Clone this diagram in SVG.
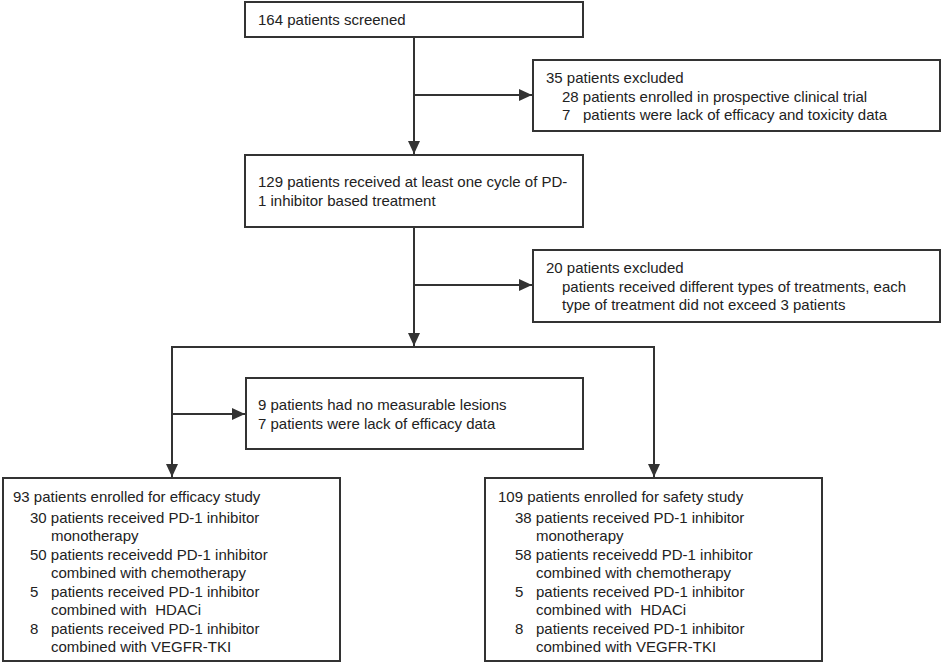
<svg xmlns="http://www.w3.org/2000/svg" width="942" height="664" viewBox="0 0 942 664">
<defs>
<marker id="ah" viewBox="0 0 13 12" refX="13" refY="6" markerWidth="13" markerHeight="12" markerUnits="userSpaceOnUse" orient="auto">
<path d="M0,0 L13,6 L0,12 z" fill="#333"/>
</marker>
<style>
.box{fill:#fff;stroke:#333;stroke-width:2}
.ln{fill:none;stroke:#333;stroke-width:2}
.t{font-family:"Liberation Sans",Arial,sans-serif;font-size:15px;fill:#222;white-space:pre}
</style>
</defs>
<rect width="942" height="664" fill="#fff"/>
<g id="connectors">
<line class="ln" x1="414" y1="37" x2="414" y2="154" marker-end="url(#ah)"/>
<line class="ln" x1="414" y1="95" x2="532" y2="95" marker-end="url(#ah)"/>
<line class="ln" x1="414" y1="227" x2="414" y2="346" marker-end="url(#ah)"/>
<line class="ln" x1="414" y1="285" x2="532" y2="285" marker-end="url(#ah)"/>
<line class="ln" x1="171" y1="347" x2="655" y2="347"/>
<line class="ln" x1="172" y1="347" x2="172" y2="477" marker-end="url(#ah)"/>
<line class="ln" x1="654" y1="347" x2="654" y2="477" marker-end="url(#ah)"/>
<line class="ln" x1="172" y1="414" x2="245" y2="414" marker-end="url(#ah)"/>
</g>
<g id="screened">
<rect class="box" x="245" y="2" width="338" height="35"/>
<text class="t" x="258" y="25">164 patients screened</text>
</g>
<g id="excluded1">
<rect class="box" x="533" y="60" width="407" height="71"/>
<text class="t" x="546" y="83">35 patients excluded</text>
<text class="t" x="562" y="102">28 patients enrolled in prospective clinical trial</text>
<text class="t" x="562" y="120">7</text>
<text class="t" x="583" y="120">patients were lack of efficacy and toxicity data</text>
</g>
<g id="received">
<rect class="box" x="245" y="155" width="338" height="72"/>
<text class="t" x="258" y="187">129 patients received at least one cycle of PD-</text>
<text class="t" x="258" y="206">1 inhibitor based treatment</text>
</g>
<g id="excluded2">
<rect class="box" x="533" y="250" width="407" height="72"/>
<text class="t" x="546" y="273">20 patients excluded</text>
<text class="t" x="562" y="292">patients received different types of treatments, each</text>
<text class="t" x="562" y="310">type of treatment did not exceed 3 patients</text>
</g>
<g id="excluded3">
<rect class="box" x="246" y="378" width="337" height="71"/>
<text class="t" x="258" y="410">9 patients had no measurable lesions</text>
<text class="t" x="258" y="429">7 patients were lack of efficacy data</text>
</g>
<g id="efficacy">
<rect class="box" x="3" y="478" width="337" height="183"/>
<text class="t" x="13" y="502">93 patients enrolled for efficacy study</text>
<text class="t" x="30" y="523">30 patients received PD-1 inhibitor</text>
<text class="t" x="51" y="541">monotherapy</text>
<text class="t" x="30" y="560">50 patients receivedd PD-1 inhibitor</text>
<text class="t" x="51" y="578">combined with chemotherapy</text>
<text class="t" x="30" y="597">5</text>
<text class="t" x="51" y="597">patients received PD-1 inhibitor</text>
<text class="t" x="51" y="615" xml:space="preserve">combined with  HDACi</text>
<text class="t" x="30" y="634">8</text>
<text class="t" x="51" y="634">patients received PD-1 inhibitor</text>
<text class="t" x="51" y="652">combined with VEGFR-TKI</text>
</g>
<g id="safety">
<rect class="box" x="485" y="478" width="337" height="183"/>
<text class="t" x="498" y="502">109 patients enrolled for safety study</text>
<text class="t" x="515" y="523">38 patients received PD-1 inhibitor</text>
<text class="t" x="536" y="541">monotherapy</text>
<text class="t" x="515" y="560">58 patients receivedd PD-1 inhibitor</text>
<text class="t" x="536" y="578">combined with chemotherapy</text>
<text class="t" x="515" y="597">5</text>
<text class="t" x="536" y="597">patients received PD-1 inhibitor</text>
<text class="t" x="536" y="615" xml:space="preserve">combined with  HDACi</text>
<text class="t" x="515" y="634">8</text>
<text class="t" x="536" y="634">patients received PD-1 inhibitor</text>
<text class="t" x="536" y="652">combined with VEGFR-TKI</text>
</g>
</svg>
